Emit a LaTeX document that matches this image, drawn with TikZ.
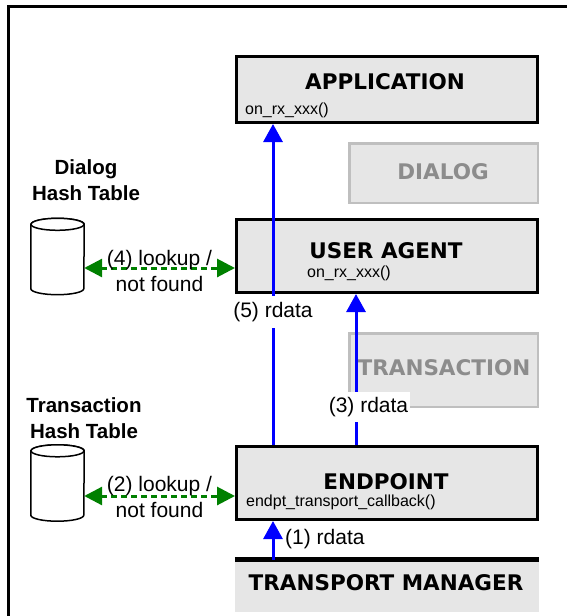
\documentclass[tikz,border=0pt]{standalone}
\usepackage{fontspec}
\setmainfont{Liberation Sans}
\newfontfamily\vfont{DejaVu Sans}
\usetikzlibrary{arrows.meta,calc}
\definecolor{boxgray}{HTML}{E6E6E6}
\definecolor{ghostline}{HTML}{BFBFBF}
\definecolor{ghosttext}{HTML}{8C8C8C}
\definecolor{lookgreen}{HTML}{008000}
\tikzset{
  box/.style={draw=black, line width=3pt, fill=boxgray, inner sep=0pt},
  ghost/.style={draw=ghostline, line width=2.5pt, fill=boxgray, inner sep=0pt},
  title/.style={font=\vfont\bfseries\fontsize{21.5}{24}\selectfont, inner sep=0pt},
  ghosttitle/.style={title, text=ghosttext},
  sub/.style={font=\fontsize{16}{18}\selectfont, anchor=west, inner sep=0pt},
  lbl/.style={font=\fontsize{21}{26}\selectfont, inner sep=0pt, align=center},
  htlabel/.style={font=\bfseries\fontsize{20.5}{26}\selectfont, inner sep=0pt, align=center},
  dbanchor/.style={minimum width=53pt, minimum height=76pt, inner sep=0pt},
  cyl/.style={draw=black, line width=1.5pt, fill=white},
  barrow/.style={draw=blue, line width=3pt, -{Triangle[length=18pt,width=19pt]}},
  garrow/.style={draw=lookgreen, line width=3pt, dash pattern=on 6pt off 4pt,
    {Triangle[length=18pt,width=18pt]}-{Triangle[length=18pt,width=18pt]}},
  whitelbl/.style={lbl, fill=white}
}
\begin{document}
\begin{tikzpicture}[x=1pt,y=-1pt]
\useasboundingbox (0,0) rectangle (567,616);
% outer frame
\draw[line width=3pt] (8,616) -- (8,6) -- (567,6);

% boxes
\node[box, minimum width=301pt, minimum height=66pt] (app) at (387,89.5) {};
\node[ghost, minimum width=188.5pt, minimum height=59.5pt] (dlg) at (443.5,173) {};
\node[box, minimum width=301pt, minimum height=73pt] (ua) at (387,256) {};
\node[ghost, minimum width=188.5pt, minimum height=73.5pt] (trn) at (443.5,370) {};
\node[box, minimum width=301pt, minimum height=73pt] (ep) at (387,483) {};
\node[fill=boxgray, minimum width=304pt, minimum height=52pt, inner sep=0pt] (tm) at (387,586) {};
\draw[line width=5pt] (tm.north west) -- (tm.north east);

% titles
\node[title] (appt) at (385,81.5) {APPLICATION};
\node[sub] (apps) at (245,110.5) {on\_rx\_xxx()};
\node[ghosttitle] (dlgt) at (443,172) {DIALOG};
\node[title] (uat) at (386,251) {USER AGENT};
\node[sub] (uas) at (307,273) {on\_rx\_xxx()};
\node[ghosttitle] (trnt) at (444,368) {TRANSACTION};
\node[title] (ept) at (386,482) {ENDPOINT};
\node[sub] (eps) at (246,502) {endpt\_transport\_callback()};
\node[title] (tmt) at (386,583) {TRANSPORT MANAGER};

% hash tables
\node[htlabel] (dht) at (86,180) {Dialog\\Hash Table};
\node[htlabel] (tht) at (84,418) {Transaction\\Hash Table};

\node[dbanchor] (db1) at (57.5,256.5) {};
\node[dbanchor] (db2) at (57.5,483) {};
\foreach \d in {db1,db2}{
  \filldraw[cyl] ($(\d.north west)+(0,6)$) -- ($(\d.south west)-(0,6)$)
    arc[start angle=180, end angle=0, x radius=26.5, y radius=6]
    -- ($(\d.north east)+(0,6)$)
    arc[start angle=0, end angle=-180, x radius=26.5, y radius=6] -- cycle;
  \draw[cyl] ($(\d.north)+(0,6)$) ellipse[x radius=26.5, y radius=6];
}

% lookup arrows
\draw[garrow] ($(db1.east)+(0,11.5)$) -- ($(ua.west)+(0,12)$);
\node[lbl] (l4) at (159.5,271) {(4) lookup /\\not found};
\draw[garrow] ($(db2.east)+(0,13)$) -- ($(ep.west)+(0,13)$);
\node[lbl] (l2) at (159.5,496.5) {(2) lookup /\\not found};

% rdata arrows
\coordinate (c5) at (273,0);
\coordinate (c3) at (356,0);
\draw[barrow] (c5 |- ep.north) -- (c5 |- app.south);
\node[whitelbl, minimum height=32pt] (l5) at (273,312) {(5) rdata};
\draw[barrow] (c3 |- ep.north) -- (c3 |- ua.south);
\node[whitelbl, minimum height=30pt, minimum width=83pt] (l3) at (368.5,407) {(3) rdata};
\draw[barrow] (c5 |- tm.north) -- (c5 |- ep.south);
\node[lbl, anchor=west] (l1) at (285,539) {(1) rdata};
\end{tikzpicture}
\end{document}
